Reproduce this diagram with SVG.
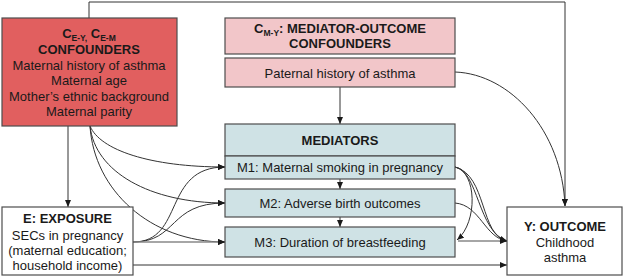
<svg xmlns="http://www.w3.org/2000/svg" width="624" height="277" viewBox="0 0 624 277">
<defs>
<marker id="ah" markerWidth="7" markerHeight="6" refX="7" refY="3" orient="auto" markerUnits="userSpaceOnUse">
<path d="M0,0 L7,3 L0,6 Z" fill="#1a1a1a"/>
</marker>
</defs>
<style>
.box{stroke:#4d4d4d;stroke-width:1.2}
.red{fill:#E15F5F}
.pink{fill:#F2C6C9}
.blue{fill:#CFE2E5}
.white{fill:#ffffff}
text{font-family:"Liberation Sans",Arial,sans-serif;font-size:13px;fill:#1a1a1a;text-anchor:middle}
.b{font-weight:bold}
.sub{font-size:8.5px}
.c{fill:none;stroke:#333;stroke-width:1}
.g{fill:none;stroke:#888;stroke-width:1.6}
</style>
<g id="connectors">
<path class="c" d="M89,18 V2 H565 V206" marker-end="url(#ah)"/>
<path class="c" d="M68,126 V207" marker-end="url(#ah)"/>
<path class="c" d="M340,87 V124" marker-end="url(#ah)"/>
<path class="c" d="M340,179 V189" marker-end="url(#ah)"/>
<path class="c" d="M340,217 V227" marker-end="url(#ah)"/>
<path class="c" d="M455,72 C510,74 562,130 565,206" marker-end="url(#ah)"/>
<path class="c" d="M90,126 C100,150 150,167 225,167" marker-end="url(#ah)"/>
<path class="c" d="M90,126 C95,172 150,203 225,203" marker-end="url(#ah)"/>
<path class="c" d="M90,126 C94,190 150,242 225,242" marker-end="url(#ah)"/>
<path class="c" d="M133,242 C185,242 162,167 225,167" marker-end="url(#ah)"/>
<path class="c" d="M133,242 C178,242 168,203 225,203" marker-end="url(#ah)"/>
<path class="g" d="M133,242 H219"/>
<path class="c" d="M219,242 H225" marker-end="url(#ah)"/>
<path class="c" d="M133,265 H507" marker-end="url(#ah)"/>
<path class="c" d="M455,167 C477,172 478,222 457,240" marker-end="url(#ah)"/>
<path class="c" d="M455,167 C478,170 478,232 507,241" marker-end="url(#ah)"/>
<path class="c" d="M455,167 C487,175 480,236 507,241" marker-end="url(#ah)"/>
<path class="c" d="M455,203 C480,205 485,238 507,241" marker-end="url(#ah)"/>
<path class="g" d="M458,241 H500"/>
<path class="c" d="M500,241 H507" marker-end="url(#ah)"/>
</g>
<g id="confounders">
<rect class="box red" x="2" y="18" width="175" height="108"/>
<text class="b" x="89" y="37.5">C<tspan class="sub" dy="3">E-Y,</tspan><tspan dy="-3"> C</tspan><tspan class="sub" dy="3">E-M</tspan></text>
<text class="b" x="89" y="53.5">CONFOUNDERS</text>
<text x="89" y="69.5">Maternal history of asthma</text>
<text x="89" y="85">Maternal age</text>
<text x="89" y="100.5">Mother’s ethnic background</text>
<text x="89" y="116">Maternal parity</text>
</g>
<g id="mediator-outcome-confounders">
<rect class="box pink" x="225" y="18" width="230" height="36"/>
<text class="b" x="340" y="32.5">C<tspan class="sub" dy="3">M-Y</tspan><tspan dy="-3">: MEDIATOR-OUTCOME</tspan></text>
<text class="b" x="340" y="47.5">CONFOUNDERS</text>
</g>
<g id="paternal-history">
<rect class="box pink" x="225" y="58" width="230" height="29"/>
<text x="340" y="77.5">Paternal history of asthma</text>
</g>
<g id="mediators">
<rect class="box blue" x="225" y="124" width="230" height="32"/>
<text class="b" x="340" y="144.5">MEDIATORS</text>
</g>
<g id="m1">
<rect class="box blue" x="225" y="156" width="230" height="23"/>
<text x="340" y="172">M1: Maternal smoking in pregnancy</text>
</g>
<g id="m2">
<rect class="box blue" x="225" y="189" width="230" height="28"/>
<text x="340" y="207.5">M2: Adverse birth outcomes</text>
</g>
<g id="m3">
<rect class="box blue" x="225" y="227" width="230" height="30"/>
<text x="340" y="246.5">M3: Duration of breastfeeding</text>
</g>
<g id="exposure">
<rect class="box white" x="2" y="207" width="131" height="68"/>
<text class="b" x="67.5" y="222.5">E: EXPOSURE</text>
<text x="67.5" y="239.5">SECs in pregnancy</text>
<text x="67.5" y="254.5">(maternal education;</text>
<text x="67.5" y="269.5">household income)</text>
</g>
<g id="outcome">
<rect class="box white" x="507" y="207" width="115" height="68"/>
<text class="b" x="565" y="230.5">Y: OUTCOME</text>
<text x="565" y="246.5">Childhood</text>
<text x="565" y="261.5">asthma</text>
</g>
</svg>
